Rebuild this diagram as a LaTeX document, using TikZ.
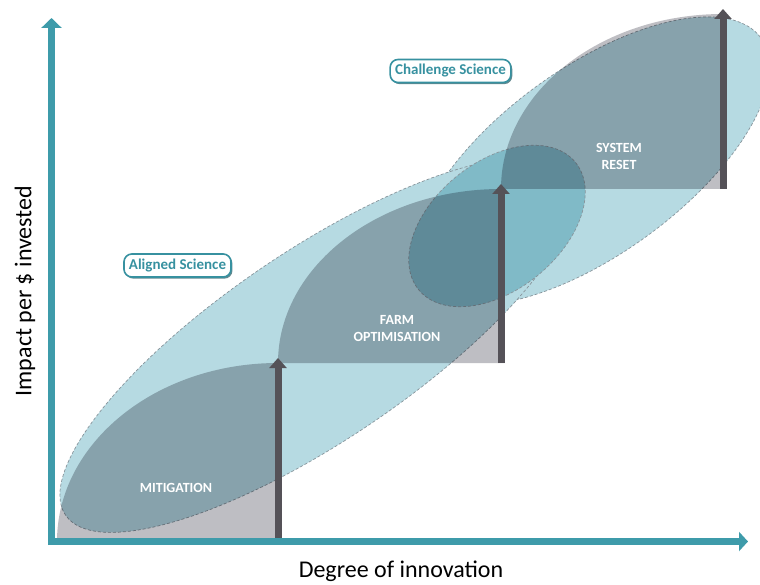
\documentclass[tikz,border=0pt]{standalone}
\usepackage{fontspec}
\setmainfont{Carlito}
\usepackage{tikz}
\usetikzlibrary{arrows.meta,positioning,shadows}
\definecolor{axisteal}{RGB}{62,155,170}
\definecolor{zonefill}{RGB}{182,218,226}
\definecolor{corefill}{RGB}{128,186,199}
\definecolor{zoneedge}{RGB}{135,148,155}
\definecolor{stepgray}{RGB}{190,190,195}
\definecolor{stepdark}{RGB}{85,82,88}
\definecolor{tagteal}{RGB}{55,145,160}

\begin{document}
\begin{tikzpicture}[
    x=1pt, y=-1pt,
    axisline/.style={line width=7pt, draw=axisteal, -{Triangle[width=20pt,length=10pt]}},
    zone/.style={fill=zonefill, draw=zoneedge, line width=0.7pt, dash pattern=on 3pt off 2pt},
    core/.style={zone, fill=corefill},
    stage/.style={fill=stepgray, blend mode=multiply},
    rise/.style={line width=7pt, draw=stepdark, -{Triangle[width=17pt,length=10pt]}},
    stagelabel/.style={text=white, font=\fontsize{14}{17}\selectfont\bfseries, align=center},
    axislabel/.style={font=\fontsize{24}{28}\selectfont, inner sep=0pt},
    tag/.style={rectangle, rounded corners=8pt, draw=tagteal, line width=1.6pt, fill=white, text=tagteal, font=\fontsize{15}{18}\selectfont\bfseries, minimum height=21pt, inner sep=5pt, drop shadow={shadow xshift=1.4pt, shadow yshift=-1.6pt, fill=tagteal!60!black, opacity=0.7}}
]
\useasboundingbox (0,0) rectangle (760,585);

% Science zones
\path[zone, rotate around={36:(592,161)}] (592,161) ellipse [x radius=209, y radius=93];
\path[zone, rotate around={34:(317.5,345)}] (317.5,345) ellipse [x radius=304, y radius=95];
\path[core, rotate around={39:(497,226)}] (497,226) ellipse [x radius=101, y radius=64];

% Stages
\coordinate (base1) at (57,541.5);
\coordinate (top1) at (278,363);
\coordinate (top2) at (501,189);
\coordinate (top3) at (723,14);
\fill[stage] (base1) .. controls (57,443) and (156,363) .. (top1) -- (281.5,363) -- (281.5,541.5) -- cycle;
\fill[stage] (top1) .. controls (278,267) and (378,189) .. (top2) -- (504.5,189) -- (504.5,363) -- cycle;
\fill[stage] (top2) .. controls (501,92) and (600.5,14) .. (top3) -- (726.5,14) -- (726.5,189) -- cycle;

% Rises
\coordinate (foot1) at (278,541.5);
\coordinate (foot2) at (501,363);
\coordinate (foot3) at (723,189);
\coordinate (head1) at (278,358);
\coordinate (head2) at (501,184);
\coordinate (head3) at (723,9);
\draw[rise] (foot1) -- (head1);
\draw[rise] (foot2) -- (head2);
\draw[rise] (foot3) -- (head3);

% Stage labels
\node[stagelabel] (mitigation) at (176,488) {MITIGATION};
\node[stagelabel] (farm) at (397,329) {FARM\\OPTIMISATION};
\node[stagelabel] (reset) at (619,156) {SYSTEM\\RESET};

% Tags
\node[tag] (aligned) at (177.5,265.5) {Aligned Science};
\node[tag] (challenge) at (450.5,71) {Challenge Science};

% Axes
\coordinate (ybase) at (51.5,545);
\coordinate (ytip) at (51.5,18);
\coordinate (xbase) at (48,541.5);
\coordinate (xtip) at (748,541.5);
\coordinate (xmid) at (401,541.5);
\draw[axisline] (ybase) -- (ytip);
\draw[axisline, -{Triangle[width=19pt,length=9pt]}] (xbase) -- (xtip);

% Axis labels
\node[axislabel, rotate=90] (ylabel) at (25,291) {Impact per \$ invested};
\node[axislabel, below=19.5pt of xmid] (xlabel) {Degree of innovation};

\end{tikzpicture}
\end{document}
